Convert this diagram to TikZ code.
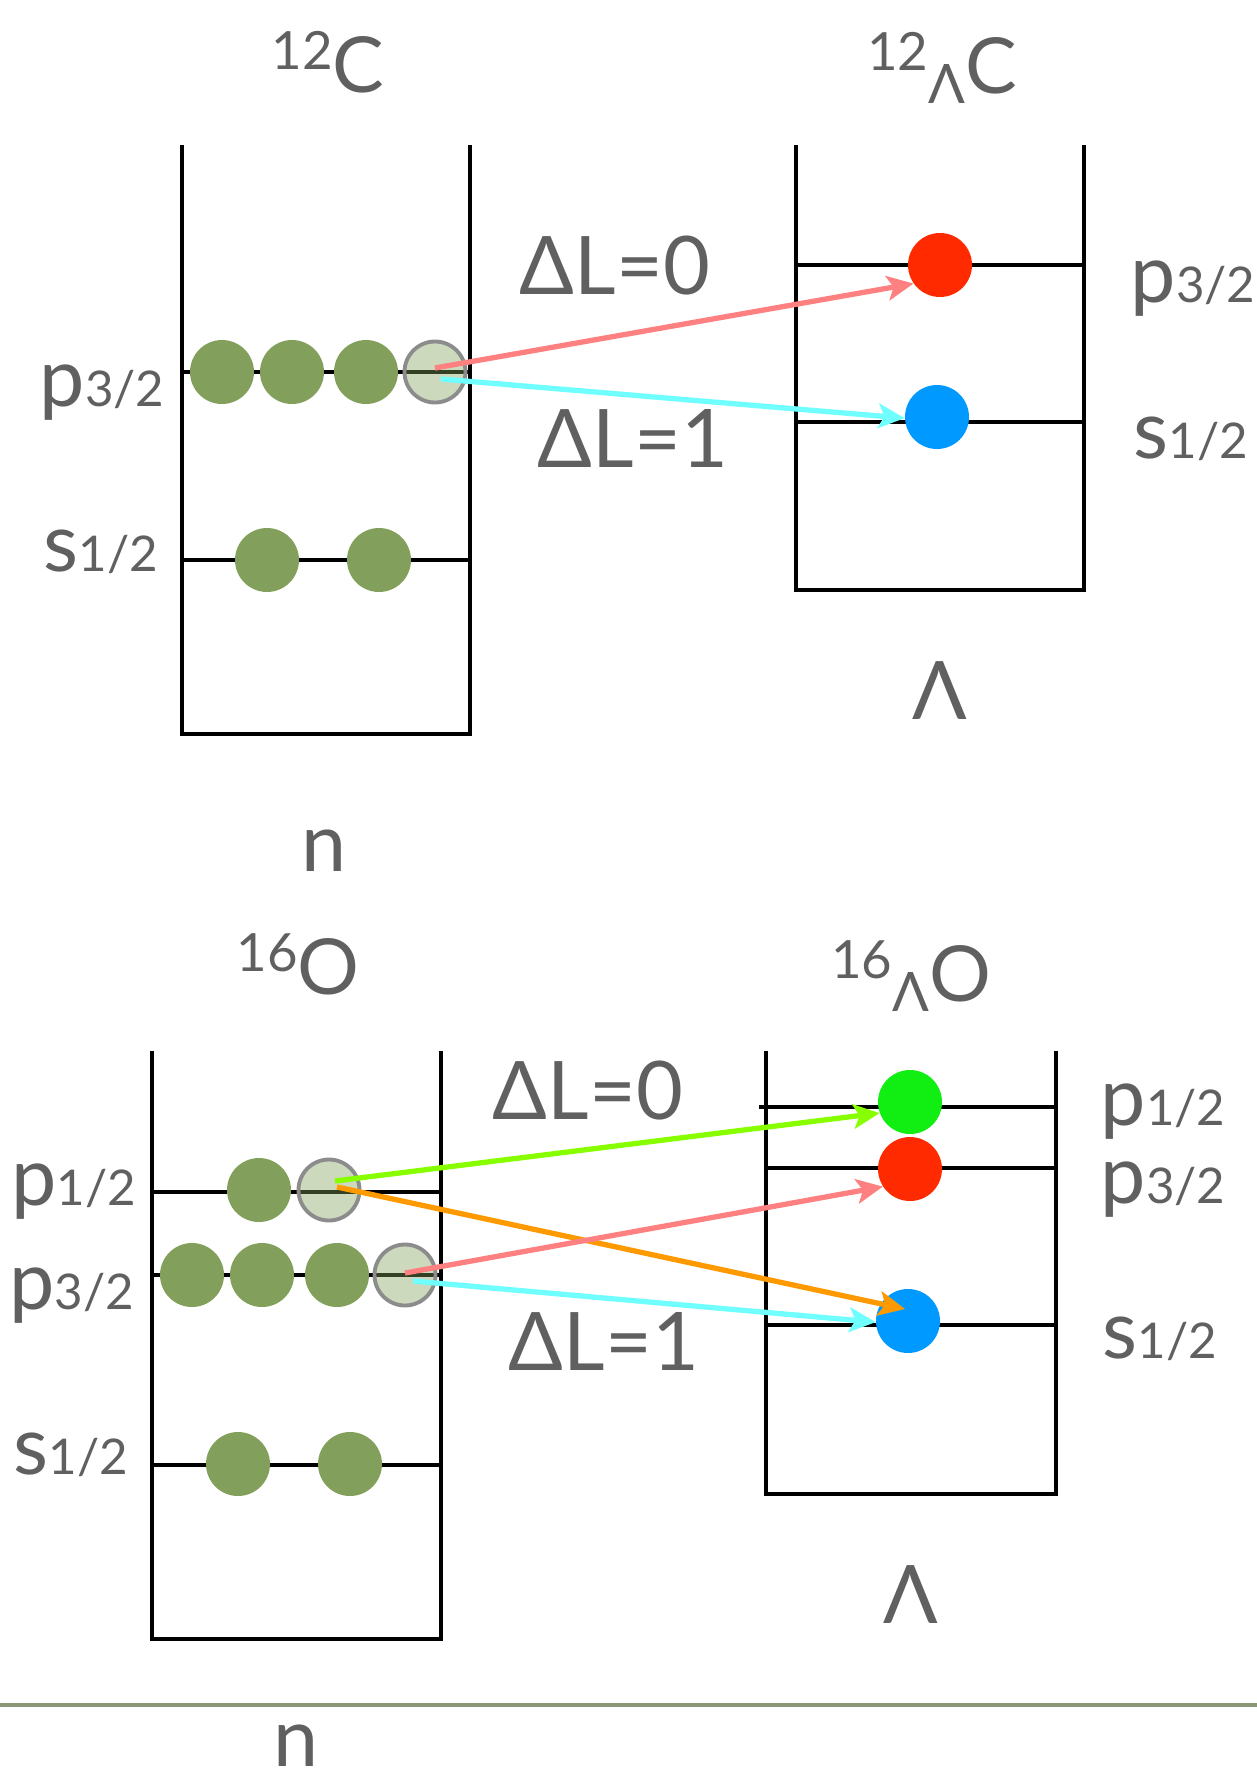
\documentclass[tikz,border=0pt]{standalone}
\usepackage{fontspec}
\setmainfont{Lato}
\usetikzlibrary{arrows.meta}
\definecolor{txt}{HTML}{606060}
\definecolor{nucgreen}{HTML}{82A05C}
\definecolor{holegray}{HTML}{8C8C8C}
\definecolor{lamred}{HTML}{FF2A00}
\definecolor{lamblue}{HTML}{0099FF}
\definecolor{lamlime}{HTML}{11EE11}
\definecolor{arrsalmon}{HTML}{FF8080}
\definecolor{arrcyan}{HTML}{70FFFF}
\definecolor{arrlime}{HTML}{88FF00}
\definecolor{arrorange}{HTML}{FF9900}
\definecolor{rulegreen}{HTML}{8A9878}

\newcommand{\bigtxt}{\fontsize{46}{50}\selectfont}
\newcommand{\smalltxt}{\fontsize{28}{30}\selectfont}
\newcommand{\orbit}[2]{{\bigtxt #1}{\smalltxt #2}}
\newcommand{\nuc}[2]{\raisebox{13pt}{\fontsize{30}{30}\selectfont #1}{\fontsize{44}{48}\selectfont #2}}
\newcommand{\hypnuc}[2]{\raisebox{13pt}{\fontsize{30}{30}\selectfont #1}\raisebox{-6pt}{\fontsize{31}{31}\selectfont Λ}{\fontsize{44}{48}\selectfont #2}}

\begin{document}
\begin{tikzpicture}[x=0.02cm, y=-0.02cm,
      well/.style={line width=2.5pt, black},
      level/.style={line width=2.5pt, black},
      nucleon/.style={circle, fill=nucgreen, minimum size=1.28cm, inner sep=0pt},
      hole/.style={circle, fill=nucgreen, fill opacity=0.4, draw=holegray, line width=2.2pt,
                   minimum size=1.22cm, inner sep=0pt},
      lam/.style={circle, minimum size=1.28cm, inner sep=0pt},
      lbl/.style={text=txt, anchor=base, inner sep=0pt},
      trans/.style={-{Stealth[length=15pt, width=14pt, inset=3.5pt]}, line width=3pt}]
    \fill[white] (0,0) rectangle (1257,1782);
    \useasboundingbox (0,0) rectangle (1257,1782);
    % 12C -> 12LC
    \draw[well] (182,145) -- (182,734) -- (470,734) -- (470,145);
    \draw[well] (796,145) -- (796,590) -- (1084,590) -- (1084,145);
    \draw[level] (182,372) -- (470,372);
    \draw[level] (182,560) -- (470,560);
    \draw[level] (796,265) -- (1084,265);
    \draw[level] (796,422) -- (1084,422);
    \node[nucleon] (cp1) at (222,372) {};
    \node[nucleon] (cp2) at (292,372) {};
    \node[nucleon] (cp3) at (366,372) {};
    \node[hole] (cph) at (435,372) {};
    \node[nucleon] (cs1) at (267,560) {};
    \node[nucleon] (cs2) at (379,560) {};
    \node[lam, fill=lamred] (clp) at (940,265) {};
    \node[lam, fill=lamblue] (cls) at (937,417) {};
    \draw[trans, arrsalmon] ([shift={(0,-4)}]cph.center) -- (clp.215);
    \draw[trans, arrcyan] ([shift={(6,7)}]cph.center) -- (cls.182);
    \node[lbl] (cnuc) at (328,92) {\nuc{12}{C}};
    \node[lbl] (chyp) at (942,93) {\hypnuc{12}{C}};
    \node[lbl] (cdl0) at (615,294) {\bigtxt ΔL=0};
    \node[lbl] (cdl1) at (633,467) {\bigtxt ΔL=1};
    \node[lbl] (cnp) at (102,406) {\orbit{p}{3/2}};
    \node[lbl] (cns) at (101,571) {\orbit{s}{1/2}};
    \node[lbl] (clpl) at (1193,302) {\orbit{p}{3/2}};
    \node[lbl] (clsl) at (1191,458) {\orbit{s}{1/2}};
    \node[lbl] (clam) at (940,719) {\bigtxt Λ};
    \node[lbl] (cn) at (324,871) {\bigtxt n};
    % 16O -> 16LO
    \draw[well] (152,1051) -- (152,1639) -- (441,1639) -- (441,1051);
    \draw[well] (766,1051) -- (766,1494) -- (1056,1494) -- (1056,1051);
    \draw[level] (152,1192) -- (441,1192);
    \draw[level] (152,1275) -- (441,1275);
    \draw[level] (152,1465) -- (441,1465);
    \draw[level] (759,1107) -- (1056,1107);
    \draw[level] (766,1168) -- (1056,1168);
    \draw[level] (766,1325) -- (1056,1325);
    \node[nucleon] (oa1) at (259,1190) {};
    \node[hole] (oah) at (329,1190) {};
    \node[nucleon] (op1) at (192,1275) {};
    \node[nucleon] (op2) at (262,1275) {};
    \node[nucleon] (op3) at (337,1275) {};
    \node[hole] (oph) at (405,1275) {};
    \node[nucleon] (os1) at (238,1464) {};
    \node[nucleon] (os2) at (350,1464) {};
    \node[lam, fill=lamlime] (ola) at (910,1102) {};
    \node[lam, fill=lamred] (olp) at (910,1169) {};
    \node[lam, fill=lamblue] (ols) at (908,1321) {};
    \draw[trans, arrlime] ([shift={(6,-9)}]oah.center) -- (ola.200);
    \draw[trans, arrorange] ([shift={(8,-3)}]oah.center) -- ([shift={(-3,-12)}]ols.center);
    \draw[trans, arrsalmon] ([shift={(0,-2)}]oph.center) -- (olp.213);
    \draw[trans, arrcyan] ([shift={(8,6)}]oph.center) -- (ols.182);
    \node[lbl] (onuc) at (298,994) {\nuc{16}{O}};
    \node[lbl] (ohyp) at (911,1001) {\hypnuc{16}{O}};
    \node[lbl] (odl0) at (588,1119) {\bigtxt ΔL=0};
    \node[lbl] (odl1) at (604,1370) {\bigtxt ΔL=1};
    \node[lbl] (ona) at (74,1205) {\orbit{p}{1/2}};
    \node[lbl] (onp) at (72,1309) {\orbit{p}{3/2}};
    \node[lbl] (ons) at (71,1474) {\orbit{s}{1/2}};
    \node[lbl] (olal) at (1163,1125) {\orbit{p}{1/2}};
    \node[lbl] (olpl) at (1163,1203) {\orbit{p}{3/2}};
    \node[lbl] (olsl) at (1160,1358) {\orbit{s}{1/2}};
    \node[lbl] (olam) at (911,1623) {\bigtxt Λ};
    \draw[rulegreen, line width=2.3pt] (0,1705) -- (1257,1705);
    \node[lbl] (on) at (296,1766) {\bigtxt n};
  \end{tikzpicture}
\end{document}
